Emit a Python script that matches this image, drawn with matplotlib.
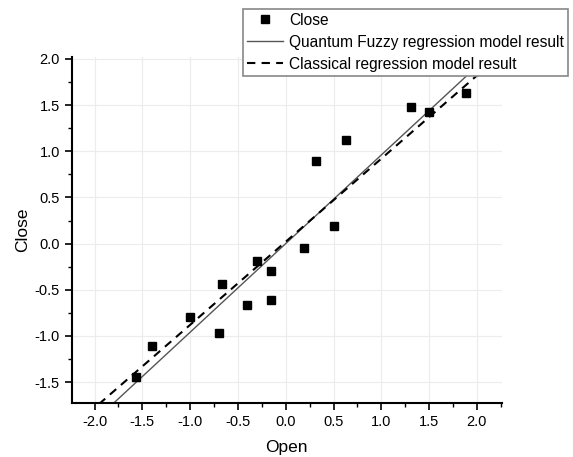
import numpy as np
import matplotlib
matplotlib.use('Agg')
import matplotlib.pyplot as plt
from matplotlib.ticker import MultipleLocator

plt.rcParams['font.family'] = ['Liberation Sans', 'DejaVu Sans']
plt.rcParams['axes.unicode_minus'] = False

# scatter data
open_vals = [-1.57, -1.40, -1.00, -0.70, -0.67, -0.40, -0.30, -0.15, -0.15,
             0.19, 0.51, 0.32, 0.63, 1.31, 1.50, 1.89]
close_vals = [-1.44, -1.11, -0.80, -0.97, -0.44, -0.67, -0.19, -0.30, -0.61,
              -0.05, 0.19, 0.90, 1.12, 1.48, 1.43, 1.63]

# fitted lines (slope, intercept)
qf_fit = (0.96, 0.0)
cl_fit = (0.90, 0.02)

fig = plt.figure(figsize=(5.73, 4.57), dpi=100)
ax = fig.add_axes([0.125, 0.1175, 0.7506, 0.7575])

xl = np.array([-2.3, 2.3])
ax.plot(xl, qf_fit[0]*xl + qf_fit[1], color='#555555', lw=1.0, ls='-',
        label='Quantum Fuzzy regression model result')
ax.plot(xl, cl_fit[0]*xl + cl_fit[1], color='black', lw=1.5, ls=(0, (4, 3)),
        label='Classical regression model result')
ax.plot(open_vals, close_vals, 's', color='black', ms=6, ls='none', label='Close')

ax.set_xlim(-2.24, 2.26)
ax.set_ylim(-1.73, 2.02)
ax.xaxis.set_major_locator(MultipleLocator(0.5))
ax.yaxis.set_major_locator(MultipleLocator(0.5))
ax.xaxis.set_minor_locator(MultipleLocator(0.25))
ax.yaxis.set_minor_locator(MultipleLocator(0.25))
ax.grid(True, which='major', color='#ececec', lw=0.8)
ax.set_axisbelow(True)

for s in ['top', 'right']:
    ax.spines[s].set_visible(False)
for s in ['left', 'bottom']:
    ax.spines[s].set_linewidth(1.5)
ax.tick_params(which='major', direction='out', length=5, width=1.2, labelsize=10.5)
ax.tick_params(which='minor', direction='out', length=3, width=1.0)

ax.set_xlabel('Open', fontsize=12.5, labelpad=8)
ax.set_ylabel('Close', fontsize=12.5, labelpad=3)

h, l = ax.get_legend_handles_labels()
order = [2, 0, 1]
leg = fig.legend([h[i] for i in order], [l[i] for i in order],
                 loc='upper left', bbox_to_anchor=(243/573, 1 - 9/457),
                 fontsize=11.2, frameon=True, fancybox=False,
                 handlelength=2.3, handletextpad=0.4, borderpad=0.25,
                 labelspacing=0.45, borderaxespad=0)
leg.get_frame().set_edgecolor('#888888')
leg.get_frame().set_linewidth(1.2)
leg.get_frame().set_alpha(1)

fig.savefig('out.png', dpi=100)
